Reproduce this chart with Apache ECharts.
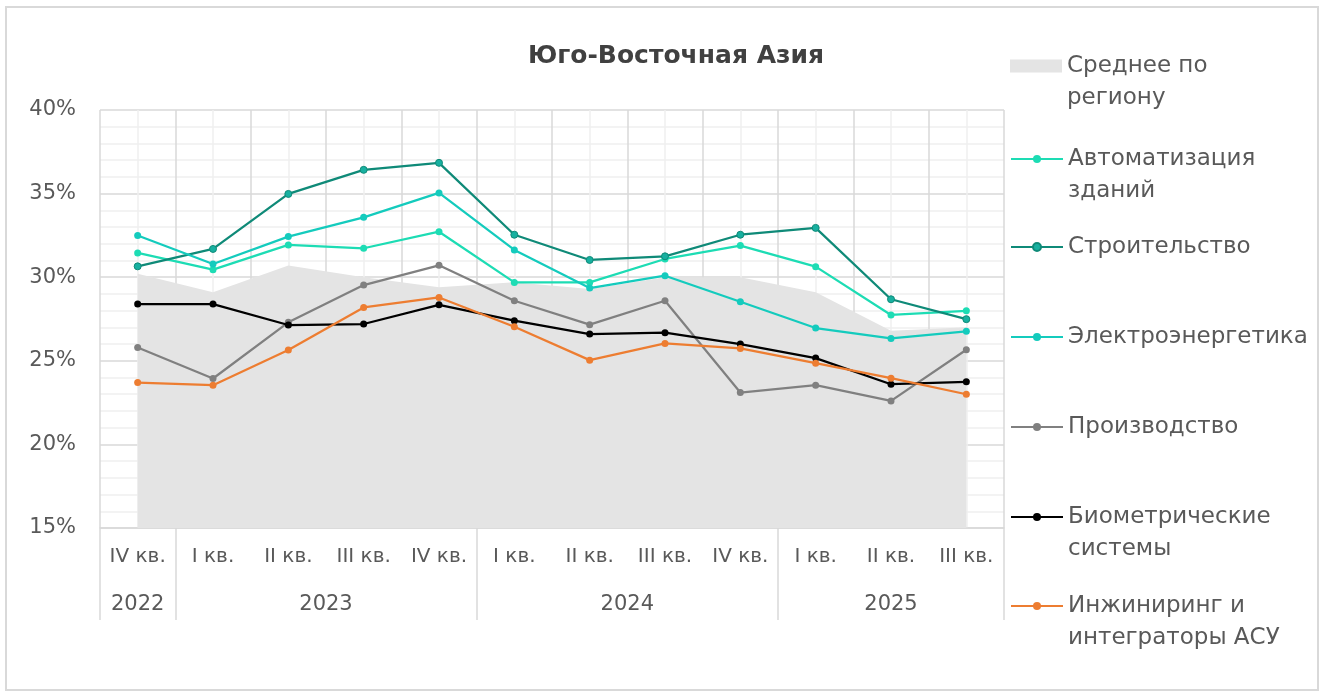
<!DOCTYPE html>
<html>
<head>
<meta charset="utf-8">
<script src="https://cdn.jsdelivr.net/npm/echarts@6/dist/echarts.min.js"></script>
<style>
html,body{margin:0;padding:0;background:#ffffff;}
#c{width:1324px;height:698px;}
</style>
</head>
<body>
<div id="c"></div>
<script>
// ---- data ----
const quarters = ['IV кв.', 'I кв.', 'II кв.', 'III кв.', 'IV кв.', 'I кв.', 'II кв.', 'III кв.', 'IV кв.', 'I кв.', 'II кв.', 'III кв.'];
const years = ['2022', '2023', '2024', '2025'];
const yearSpans = [1, 4, 4, 3];
const yTickMin = 15, yTickMax = 40, yTickStep = 5;

const avgRegion    = [30.2, 29.1, 30.7, 30.0, 29.4, 29.7, 29.3, 30.0, 30.0, 29.1, 26.8, 27.0];
const automation   = [31.45, 30.45, 31.93, 31.73, 32.72, 29.69, 29.69, 31.09, 31.89, 30.63, 27.74, 27.99];
const construction = [30.65, 31.69, 34.98, 36.42, 36.84, 32.54, 31.03, 31.25, 32.54, 32.95, 28.68, 27.49];
const energy       = [32.49, 30.79, 32.43, 33.58, 35.04, 31.63, 29.35, 30.09, 28.53, 26.96, 26.34, 26.76];
const production   = [25.80, 23.94, 27.30, 29.53, 30.71, 28.59, 27.16, 28.59, 23.10, 23.54, 22.60, 25.66];
const biometric    = [28.39, 28.39, 27.14, 27.20, 28.35, 27.40, 26.60, 26.68, 26.00, 25.16, 23.60, 23.74];
const engineering  = [23.70, 23.54, 25.64, 28.19, 28.79, 27.04, 25.04, 26.04, 25.74, 24.86, 23.96, 23.00];

const seriesNames = ['Среднее по региону', 'Автоматизация зданий', 'Строительство', 'Электроэнергетика', 'Производство', 'Биометрические системы', 'Инжиниринг и интеграторы АСУ'];
const legendLabels = ['Среднее по\nрегиону', 'Автоматизация\nзданий', 'Строительство', 'Электроэнергетика', 'Производство', 'Биометрические\nсистемы', 'Инжиниринг и\nинтеграторы АСУ'];

// ---- styling ----
const FONT = 'DejaVu Sans';
const TXT = '#595959';
const colors = ['#e4e4e4', '#1ddcb4', '#0f8a78', '#14cbbd', '#808080', '#000000', '#ed7d31'];
const legendIconY = [66, 159, 247, 337, 427, 517, 606];

// year label positions & separators from spans
const yearBounds = [0];
yearSpans.forEach(s => yearBounds.push(yearBounds[yearBounds.length - 1] + s));
const yearCenters = years.map((y, i) => (yearBounds[i] + yearBounds[i + 1]) / 2);

const chart = echarts.init(document.getElementById('c'), null, {renderer: 'canvas'});

const lineData = [null, automation, construction, energy, production, biometric, engineering];

const series = [{
  name: seriesNames[0],
  type: 'line',
  data: avgRegion,
  xAxisIndex: 0, yAxisIndex: 0,
  symbol: 'none',
  lineStyle: {width: 0, opacity: 0},
  itemStyle: {color: colors[0]},
  areaStyle: {color: colors[0], opacity: 1},
  z: 1,
  silent: true
}];
for (let i = 1; i < seriesNames.length; i++) {
  series.push({
    name: seriesNames[i],
    type: 'line',
    data: lineData[i],
    xAxisIndex: 0, yAxisIndex: 0,
    symbol: 'circle',
    symbolSize: 7,
    lineStyle: {width: 2.25, color: colors[i]},
    itemStyle: i === 2 ? {color: '#17b0a0', borderColor: '#0f8a78', borderWidth: 1} : {color: colors[i]},
    z: 3 + i
  });
}

const legends = seriesNames.map((n, i) => {
  const twoLine = legendLabels[i].indexOf('\n') >= 0;
  return {
    data: [i === 0 ? {name: n, icon: 'rect'} : {name: n}],
    orient: 'vertical',
    left: 1010,
    top: legendIconY[i] - (twoLine ? 48 : 16),
    padding: 0,
    itemWidth: 52,
    itemHeight: i === 0 ? 13 : 10,
    selectedMode: false,
    formatter: () => (twoLine ? ' \n' : '') + legendLabels[i],
    textStyle: {fontFamily: FONT, fontSize: 23, color: TXT, lineHeight: 32}
  };
});

const option = {
  animation: false,
  backgroundColor: '#ffffff',
  title: {
    text: 'Юго-Восточная Азия',
    left: 676, top: 44, padding: 0,
    textAlign: 'center',
    textStyle: {fontFamily: FONT, fontSize: 25, fontWeight: 'bold', color: '#404040'}
  },
  legend: legends,
  grid: {left: 100, right: 320, top: 110, bottom: 170, containLabel: false},
  xAxis: [{
    type: 'category',
    position: 'bottom',
    data: quarters,
    boundaryGap: true,
    axisLine: {show: true, lineStyle: {color: '#d9d9d9', width: 1.5}},
    axisTick: {show: false},
    splitLine: {show: false},
    axisLabel: {fontFamily: FONT, fontSize: 20, color: TXT, margin: 19, interval: 0}
  }, {
    type: 'value',
    position: 'bottom',
    min: 0, max: quarters.length, interval: 1,
    axisLine: {show: false}, axisTick: {show: false}, axisLabel: {show: false},
    splitLine: {show: true, lineStyle: {color: '#d9d9d9', width: 1.5}},
    minorTick: {show: false, splitNumber: 2},
    minorSplitLine: {show: true, lineStyle: {color: '#efefef', width: 1.5}}
  }, {
    type: 'value',
    position: 'bottom',
    min: 0, max: quarters.length,
    axisLine: {show: false},
    splitLine: {show: false},
    axisTick: {show: true, inside: false, length: 92, customValues: yearBounds, lineStyle: {color: '#d9d9d9', width: 1.5}},
    axisLabel: {
      show: true, customValues: yearCenters, margin: 66,
      fontFamily: FONT, fontSize: 21, color: TXT,
      formatter: v => { const k = yearCenters.indexOf(v); return k >= 0 ? years[k] : ''; }
    }
  }],
  yAxis: [{
    type: 'value',
    min: yTickMin, max: yTickMax, interval: yTickStep,
    axisLine: {show: false}, axisTick: {show: false},
    axisLabel: {fontFamily: FONT, fontSize: 21, color: TXT, margin: 24, formatter: '{value}%'},
    splitLine: {show: true, lineStyle: {color: '#d9d9d9', width: 1.5}},
    minorTick: {show: false, splitNumber: 5},
    minorSplitLine: {show: true, lineStyle: {color: '#efefef', width: 1.5}}
  }],
  graphic: [{
    type: 'rect',
    shape: {x: 6, y: 7, width: 1312, height: 683},
    style: {fill: 'none', stroke: '#d9d9d9', lineWidth: 2},
    silent: true, z: -10
  }],
  series: series
};
chart.setOption(option);
</script>
</body>
</html>
